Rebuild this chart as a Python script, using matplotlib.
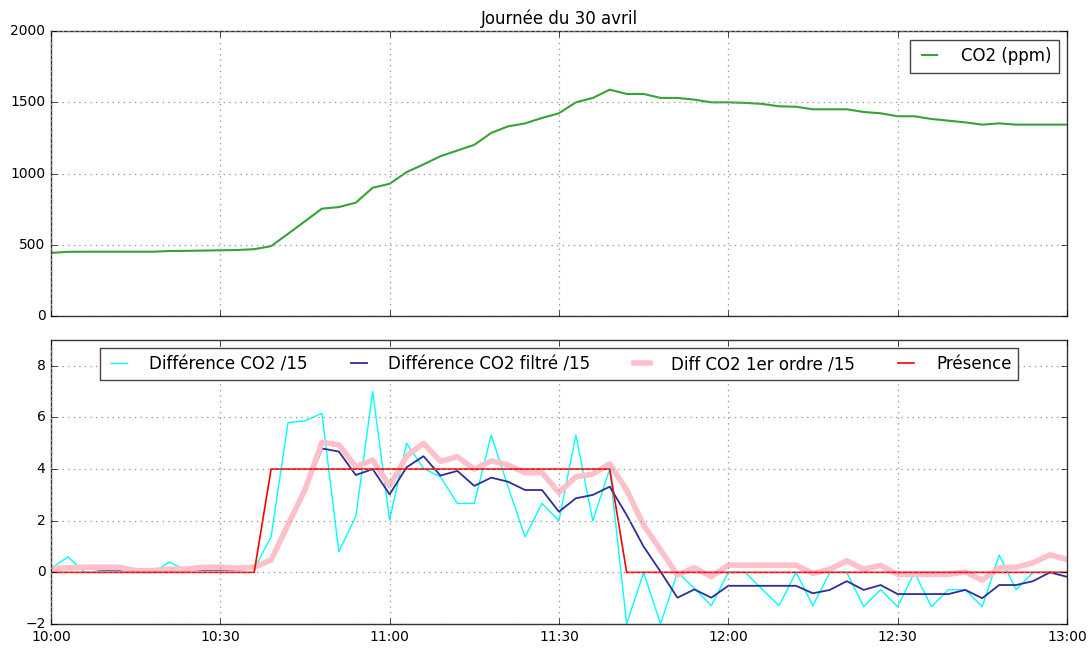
import matplotlib
matplotlib.use('Agg')
import matplotlib.pyplot as plt
import matplotlib.dates as mdates
import pandas as pd

plt.style.use('classic')

# one sample every 3 minutes, 10:00 -> 13:00
temps = pd.date_range('2016-04-30 10:00', '2016-04-30 13:00', freq='3min')

co2 = [442, 449, 450, 450, 450, 450, 450, 455, 456, 458, 460, 462, 468,
       489, 576, 664, 753, 764, 795, 900, 928, 1010, 1064, 1122, 1162,
       1202, 1286, 1332, 1353, 1391, 1424, 1501, 1532, 1590, 1560, 1560,
       1532, 1532, 1520, 1501, 1501, 1497, 1490, 1473, 1470, 1452, 1452,
       1452, 1433, 1424, 1403, 1403, 1384, 1372, 1360, 1344, 1353, 1344,
       1344, 1344, 1344]

diff_co2 = [0.15, 0.6, 0, 0, 0, 0, 0, 0.4, 0.07, 0.13, 0.13, 0.13, 0.13,
            1.38, 5.8, 5.87, 6.16, 0.8, 2.16, 7.0, 2.03, 5.0, 4.03, 3.7,
            2.67, 2.67, 5.32, 3.3, 1.38, 2.67, 2.0, 5.32, 2.0, 4.0, -2.0,
            0, -2.0, 0, -0.62, -1.29, 0, 0, -0.65, -1.29, 0, -1.29, 0, 0,
            -1.33, -0.67, -1.33, 0, -1.33, -0.67, -0.67, -1.33, 0.67,
            -0.67, 0, 0, 0]

diff_filtre = [0.1, 0.2, 0.15, 0.1, 0.1, 0.05, 0.05, 0.1, 0.1, 0.1, 0.1,
               0.1, 0.15, 0.5, 1.8, 3.1, 4.8, 4.68, 3.77, 4.0, 3.02, 4.07,
               4.5, 3.75, 3.93, 3.35, 3.67, 3.51, 3.19, 3.19, 2.35, 2.87,
               3.0, 3.32, 2.22, 1.0, 0.03, -0.98, -0.66, -0.98, -0.52,
               -0.52, -0.52, -0.52, -0.52, -0.81, -0.68, -0.34, -0.68,
               -0.49, -0.84, -0.84, -0.84, -0.84, -0.68, -1.0, -0.49,
               -0.49, -0.34, 0, -0.17]

diff_1er_ordre = [0.15, 0.18, 0.2, 0.2, 0.2, 0.07, 0.07, 0.12, 0.13, 0.2,
                  0.2, 0.17, 0.2, 0.48, 1.85, 3.2, 5.04, 4.94, 4.1, 4.35,
                  3.35, 4.5, 5.0, 4.3, 4.48, 4.0, 4.32, 4.16, 3.86, 3.86,
                  3.09, 3.7, 3.81, 4.2, 3.19, 1.83, 0.87, -0.1, 0.18,
                  -0.17, 0.28, 0.28, 0.28, 0.28, 0.28, -0.04, 0.12, 0.45,
                  0.12, 0.27, -0.08, -0.08, -0.08, -0.08, 0.02, -0.3, 0.17,
                  0.2, 0.37, 0.68, 0.5]

presence = [0] * 13 + [4] * 21 + [0] * 27

fig = plt.figure(figsize=(10.92, 6.49), dpi=100, facecolor='white')
ax1 = fig.add_axes([0.0467, 0.5136, 0.9303, 0.438])
ax2 = fig.add_axes([0.0467, 0.0385, 0.9303, 0.4376], sharex=ax1)

ax1.plot(temps, co2, color='#35a335', lw=1.5, label='CO2 (ppm)')
ax1.set_ylim(0, 2000)
ax1.set_yticks([0, 500, 1000, 1500, 2000])
ax1.set_title('Journée du 30 avril', fontsize=12)
leg1 = ax1.legend(loc='upper right', fontsize=12, handlelength=1.5,
                  handletextpad=1.1, borderpad=0.45)
leg1.get_frame().set_edgecolor('#444444')

ax2.plot(temps, diff_co2, color='cyan', lw=1.0, label='Différence CO2 /15')
ax2.plot(temps, diff_filtre, color='#2e2e96', lw=1.3,
         label='Différence CO2 filtré /15')
ax2.plot(temps, diff_1er_ordre, color='pink', lw=4,
         label='Diff CO2 1er ordre /15')
ax2.plot(temps, presence, color='red', lw=1.2, label='Présence')
ax2.set_ylim(-2, 9)
ax2.set_yticks([-2, 0, 2, 4, 6, 8])
leg2 = ax2.legend(loc='upper center', ncol=4, fontsize=12, handlelength=1.55,
                  handletextpad=1.0, columnspacing=2.3, borderpad=0.4)
leg2.get_frame().set_edgecolor('#444444')

for ax in (ax1, ax2):
    ax.grid(True, color='#999999', linestyle=':', linewidth=0.9)
    ax.tick_params(labelsize=10)
    ax.set_xlim(temps[0], temps[-1])
    for s in ax.spines.values():
        s.set_edgecolor('#333333')

ax2.xaxis.set_major_locator(mdates.MinuteLocator(byminute=[0, 30]))
ax2.xaxis.set_major_formatter(mdates.DateFormatter('%H:%M'))
plt.setp(ax1.get_xticklabels(), visible=False)

fig.savefig('out.png', dpi=100, facecolor='white')
